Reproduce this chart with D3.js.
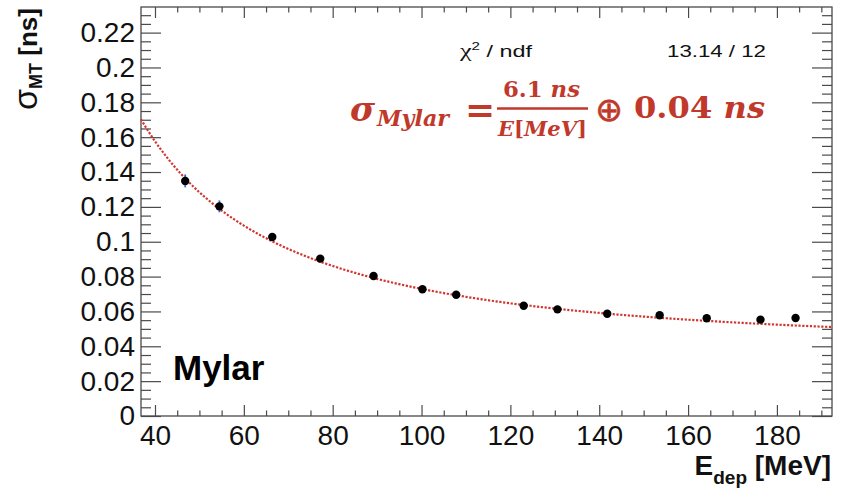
<!DOCTYPE html>
<html>
<head>
<meta charset="utf-8">
<script src="https://cdn.jsdelivr.net/npm/d3@7/dist/d3.min.js"></script>
<style>
  html, body { margin: 0; padding: 0; background: #fff; }
  svg { display: block; }
</style>
</head>
<body>
<svg id="chart" width="845" height="498"></svg>
<script>
// Deposited energy [MeV] of each measurement
const energy = [46.8, 54.5, 66.4, 77.2, 89.2, 100.2, 107.8, 123.0, 130.6, 141.8, 153.6, 164.2, 176.3, 184.2];
// Time resolution sigma_MT [ns]
const sigmaMT = [0.1349, 0.1203, 0.1027, 0.0903, 0.0803, 0.0727, 0.0696, 0.0633, 0.0612, 0.0587, 0.0578, 0.0561, 0.0553, 0.0562];
// Statistical uncertainty on sigma_MT [ns]
const sigmaErr = [0.0037, 0.0034, 0.0015, 0.0012, 0.0011, 0.0010, 0.0009, 0.0009, 0.0008, 0.0008, 0.0008, 0.0008, 0.0008, 0.0008];

// Fit parameters: sigma = a/E (+) b
const fitA = 6.1;   // ns * MeV
const fitB = 0.04;  // ns
const chi2 = "13.14";
const ndf = "12";

// Axis ranges and tick labels
const xDomain = [36.85, 192.4];
const yDomain = [0, 0.2347];
const xTicks = [40, 60, 80, 100, 120, 140, 160, 180];
const yTicks = [0, 0.02, 0.04, 0.06, 0.08, 0.1, 0.12, 0.14, 0.16, 0.18, 0.2, 0.22];
const yTickLabels = ["0", "0.02", "0.04", "0.06", "0.08", "0.1", "0.12", "0.14", "0.16", "0.18", "0.2", "0.22"];

const svg = d3.select("#chart");
const frame = { left: 141, right: 832, top: 7, bottom: 416 };

const x = d3.scaleLinear().domain(xDomain).range([frame.left, frame.right]);
const y = d3.scaleLinear().domain(yDomain).range([frame.bottom, frame.top]);

const axisColor = "#4a4a4a";
const labelFont = "'Liberation Sans', Arial, Helvetica, sans-serif";

const xMinor = d3.range(35, 195, 5).filter(v => v >= xDomain[0] && v <= xDomain[1] && v % 20 !== 0);
const yMinor = d3.range(0, 0.2351, 0.005).filter(v => v <= yDomain[1] && Math.abs(v / 0.02 - Math.round(v / 0.02)) > 1e-6);

function styleAxis(g) {
  g.select(".domain").remove();
  g.selectAll(".tick line").attr("stroke", axisColor).attr("stroke-width", 1.2);
  g.selectAll(".tick text")
    .attr("fill", "#111")
    .style("font-family", labelFont)
    .style("font-size", "28px");
}

// Bottom axis: major ticks with labels, then minor ticks
svg.append("g")
  .attr("transform", `translate(0,${frame.bottom})`)
  .call(d3.axisBottom(x).tickValues(xTicks).tickSize(-11).tickSizeOuter(0).tickPadding(9).tickFormat(d3.format("d")))
  .call(styleAxis);
svg.append("g")
  .attr("transform", `translate(0,${frame.bottom})`)
  .call(d3.axisBottom(x).tickValues(xMinor).tickSize(-5.5).tickSizeOuter(0).tickFormat(""))
  .call(styleAxis);

// Top axis (mirrored ticks)
svg.append("g")
  .attr("transform", `translate(0,${frame.top})`)
  .call(d3.axisTop(x).tickValues(xTicks).tickSize(-11).tickSizeOuter(0).tickFormat(""))
  .call(styleAxis);
svg.append("g")
  .attr("transform", `translate(0,${frame.top})`)
  .call(d3.axisTop(x).tickValues(xMinor).tickSize(-5.5).tickSizeOuter(0).tickFormat(""))
  .call(styleAxis);

// Left axis
svg.append("g")
  .attr("transform", `translate(${frame.left},0)`)
  .call(d3.axisLeft(y).tickValues(yTicks).tickSize(-20).tickSizeOuter(0).tickPadding(6)
    .tickFormat((d, i) => yTickLabels[i]))
  .call(styleAxis);
svg.append("g")
  .attr("transform", `translate(${frame.left},0)`)
  .call(d3.axisLeft(y).tickValues(yMinor).tickSize(-10).tickSizeOuter(0).tickFormat(""))
  .call(styleAxis);

// Right axis (mirrored ticks)
svg.append("g")
  .attr("transform", `translate(${frame.right},0)`)
  .call(d3.axisRight(y).tickValues(yTicks).tickSize(-20).tickSizeOuter(0).tickFormat(""))
  .call(styleAxis);
svg.append("g")
  .attr("transform", `translate(${frame.right},0)`)
  .call(d3.axisRight(y).tickValues(yMinor).tickSize(-10).tickSizeOuter(0).tickFormat(""))
  .call(styleAxis);

// Frame
svg.append("rect")
  .attr("x", frame.left).attr("y", frame.top)
  .attr("width", frame.right - frame.left).attr("height", frame.bottom - frame.top)
  .attr("fill", "none").attr("stroke", axisColor).attr("stroke-width", 1.3);

// Fit curve, sampled across the full x range
const fitFn = e => Math.sqrt((fitA / e) ** 2 + fitB ** 2);
const fitPts = d3.range(0, 301).map(i => {
  const e = xDomain[0] + (xDomain[1] - xDomain[0]) * i / 300;
  return [e, fitFn(e)];
});
svg.append("path")
  .datum(fitPts)
  .attr("d", d3.line().x(d => x(d[0])).y(d => y(d[1])))
  .attr("fill", "none")
  .attr("stroke", "#d2352f")
  .attr("stroke-width", 2.2)
  .attr("stroke-dasharray", "2.2,1.6");

// Data points with error bars
const points = energy.map((e, i) => ({ e, s: sigmaMT[i], err: sigmaErr[i] }));
svg.append("g").selectAll("line")
  .data(points).join("line")
  .attr("x1", d => x(d.e)).attr("x2", d => x(d.e))
  .attr("y1", d => y(d.s - d.err)).attr("y2", d => y(d.s + d.err))
  .attr("stroke", "#3f5fd6").attr("stroke-width", 1.8);
svg.append("g").selectAll("circle")
  .data(points).join("circle")
  .attr("cx", d => x(d.e)).attr("cy", d => y(d.s))
  .attr("r", 4.2)
  .attr("fill", "#000");

// Axis titles
svg.append("text")
  .attr("x", 831).attr("y", 475)
  .attr("text-anchor", "end")
  .style("font-family", labelFont).style("font-weight", "bold").style("font-size", "28px")
  .attr("fill", "#111")
  .call(t => {
    t.append("tspan").text("E");
    t.append("tspan").attr("dy", 9).style("font-size", "19px").text("dep");
    t.append("tspan").attr("dy", -9).text(" [MeV]");
  });

svg.append("text")
  .attr("transform", "translate(37,8) rotate(-90)")
  .attr("text-anchor", "end")
  .style("font-family", labelFont).style("font-weight", "bold").style("font-size", "26px")
  .attr("fill", "#111")
  .call(t => {
    t.append("tspan").style("font-weight", "normal").style("font-size", "34px").text("σ");
    t.append("tspan").attr("dy", 5).style("font-size", "18px").text("MT");
    t.append("tspan").attr("dy", -5).text(" [ns]");
  });

// Material label
svg.append("text")
  .attr("x", 173).attr("y", 380)
  .style("font-family", labelFont).style("font-weight", "bold").style("font-size", "35px")
  .attr("fill", "#000")
  .text("Mylar");

// Fit statistics
svg.append("text")
  .attr("x", 460).attr("y", 56.5)
  .attr("textLength", 72).attr("lengthAdjust", "spacingAndGlyphs")
  .style("font-family", labelFont).style("font-size", "17px").attr("fill", "#111")
  .call(t => {
    t.append("tspan").style("font-family", "'Liberation Serif', serif").style("font-size", "19px").text("χ");
    t.append("tspan").attr("dy", -7).style("font-size", "11px").text("2");
    t.append("tspan").attr("dy", 7).text(" / ndf");
  });
svg.append("text")
  .attr("x", 667).attr("y", 56.5)
  .attr("textLength", 99).attr("lengthAdjust", "spacingAndGlyphs")
  .style("font-family", labelFont).style("font-size", "17px").attr("fill", "#111")
  .text(`${chi2} / ${ndf}`);

// Resolution formula
const red = "#c0392b";
const mathFont = "'DejaVu Serif', 'Liberation Serif', serif";
const formula = svg.append("g").attr("fill", red).style("font-family", mathFont).style("font-weight", "bold");

formula.append("text")
  .attr("x", 350).attr("y", 121)
  .style("font-style", "italic").style("font-size", "34px")
  .text("σ");
formula.append("text")
  .attr("x", 377).attr("y", 126)
  .attr("textLength", 72).attr("lengthAdjust", "spacingAndGlyphs")
  .style("font-style", "italic").style("font-size", "22px")
  .text("Mylar");
formula.append("text")
  .attr("x", 465).attr("y", 122)
  .style("font-size", "36px")
  .text("=");
formula.append("text")
  .attr("x", 503).attr("y", 97)
  .attr("textLength", 77).attr("lengthAdjust", "spacingAndGlyphs")
  .style("font-size", "22px")
  .call(t => {
    t.append("tspan").text(`${fitA}`);
    t.append("tspan").style("font-style", "italic").text(" ns");
  });
formula.append("line")
  .attr("x1", 497).attr("x2", 588).attr("y1", 108.5).attr("y2", 108.5)
  .attr("stroke", red).attr("stroke-width", 2.6);
formula.append("text")
  .attr("x", 498).attr("y", 136)
  .attr("textLength", 89).attr("lengthAdjust", "spacingAndGlyphs")
  .style("font-size", "21px")
  .call(t => {
    t.append("tspan").style("font-style", "italic").text("E");
    t.append("tspan").text("[");
    t.append("tspan").style("font-style", "italic").text("MeV");
    t.append("tspan").text("]");
  });
formula.append("text")
  .attr("x", 609).attr("y", 121)
  .attr("text-anchor", "middle")
  .style("font-family", "'DejaVu Sans', sans-serif").style("font-weight", "normal").style("font-size", "33px")
  .attr("stroke", red).attr("stroke-width", 0.6)
  .text("⊕");
formula.append("text")
  .attr("x", 634).attr("y", 118)
  .attr("textLength", 131).attr("lengthAdjust", "spacingAndGlyphs")
  .style("font-size", "30px")
  .call(t => {
    t.append("tspan").text(`${fitB}`);
    t.append("tspan").style("font-style", "italic").text(" ns");
  });
</script>
</body>
</html>
